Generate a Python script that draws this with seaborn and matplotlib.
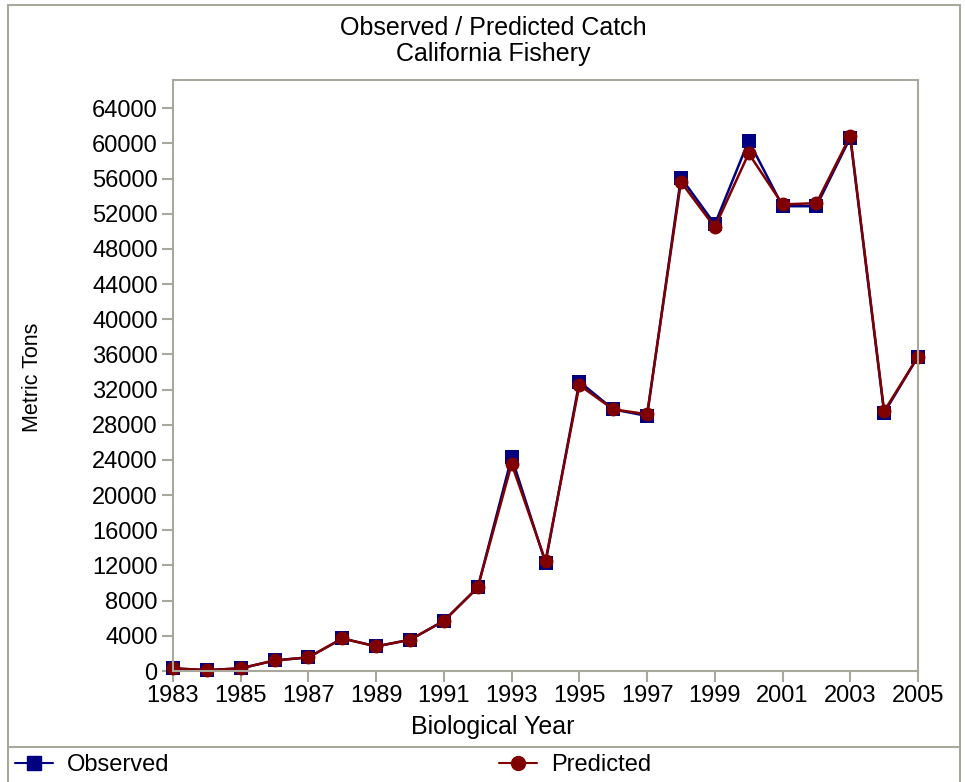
import numpy as np
import pandas as pd
import matplotlib
matplotlib.use("Agg")
import matplotlib.pyplot as plt
from matplotlib.lines import Line2D
from matplotlib.patches import Rectangle
import seaborn as sns

years = list(range(1983, 2006))
observed = [300, 100, 300, 1200, 1550, 3700, 2800, 3550, 5700, 9500, 24300, 12300,
            32900, 29750, 29000, 56100, 50800, 60300, 52850, 52850, 60650, 29350, 35750]
predicted = [300, 100, 300, 1200, 1550, 3700, 2800, 3550, 5700, 9500, 23550, 12500,
             32500, 29750, 29200, 55600, 50450, 58850, 53050, 53200, 60850, 29550, 35750]
series_names = ["Observed", "Predicted"]
x_ticks = list(range(1983, 2006, 2))
y_ticks = list(range(0, 64001, 4000))

df = pd.DataFrame({
    "Biological Year": years * 2,
    "Metric Tons": observed + predicted,
    "Series": [series_names[0]] * len(years) + [series_names[1]] * len(years),
})

sns.set_style("white")
plt.rcParams["font.family"] = ["Liberation Sans", "DejaVu Sans"]
plt.rcParams["text.color"] = "black"
plt.rcParams["xtick.color"] = "black"
plt.rcParams["ytick.color"] = "black"

W, H = 965, 782
fig = plt.figure(figsize=(W / 100, H / 100), dpi=100)
ax = fig.add_axes([173 / W, 1 - 671 / H, (918 - 173) / W, (671 - 80) / H])

colors = {"Observed": "#000080", "Predicted": "#800000"}
markers = {"Observed": "s", "Predicted": "o"}
sns.lineplot(data=df, x="Biological Year", y="Metric Tons", hue="Series",
             style="Series", markers=markers, dashes=False, palette=colors,
             markersize=10, linewidth=1.8, markeredgewidth=0, ax=ax, legend=False)

ax.set_xlim(1983, 2005)
ax.set_ylim(0, 67200)
ax.set_xticks(x_ticks)
ax.set_yticks(y_ticks)
ax.set_xticklabels([str(v) for v in x_ticks])
ax.set_yticklabels([str(v) for v in y_ticks])
spine_col = "#a8a89c"
for s in ax.spines.values():
    s.set_color(spine_col)
    s.set_linewidth(1.5)
ax.tick_params(axis="both", which="major", length=8, width=1.5, color=spine_col,
               labelcolor="black", labelsize=17, direction="out", pad=3,
               bottom=True, left=True, top=False, right=False)
ax.tick_params(axis="x", pad=2)
for l in ax.get_lines():
    l.set_clip_on(False)
ax.set_xlabel("")
ax.set_ylabel("")

fig.text(493 / W, 1 - 28 / H, "Observed / Predicted Catch", ha="center", va="center", fontsize=18)
fig.text(493 / W, 1 - 54 / H, "California Fishery", ha="center", va="center", fontsize=18)
fig.text(33 / W, 1 - 377 / H, "Metric Tons", ha="center", va="center", rotation=90, fontsize=15.5)
fig.text(493 / W, 1 - 727 / H, "Biological Year", ha="center", va="center", fontsize=18)

# frame and legend separator
fig.patches.append(Rectangle((8 / W, -0.01), (960 - 8) / W, 1 - 5 / H + 0.01,
                             transform=fig.transFigure, fill=False,
                             edgecolor=spine_col, linewidth=1.5))
fig.lines.append(Line2D([8 / W, 960 / W], [1 - 747 / H, 1 - 747 / H],
                        transform=fig.transFigure, color=spine_col, linewidth=1.5))

h_obs = Line2D([], [], color=colors["Observed"], marker="s", markersize=10, linewidth=1.5)
h_pred = Line2D([], [], color=colors["Predicted"], marker="o", markersize=10, linewidth=1.5)
leg1 = fig.legend([h_obs], ["Observed"], loc="center left", bbox_to_anchor=(10 / W, 1 - 765 / H),
                  frameon=False, fontsize=17, handlelength=1.6, handletextpad=0.6,
                  borderaxespad=0, borderpad=0.2)
leg2 = fig.legend([h_pred], ["Predicted"], loc="center left", bbox_to_anchor=(494 / W, 1 - 765 / H),
                  frameon=False, fontsize=17, handlelength=1.6, handletextpad=0.6,
                  borderaxespad=0, borderpad=0.2)

fig.savefig("out.png", dpi=100)
